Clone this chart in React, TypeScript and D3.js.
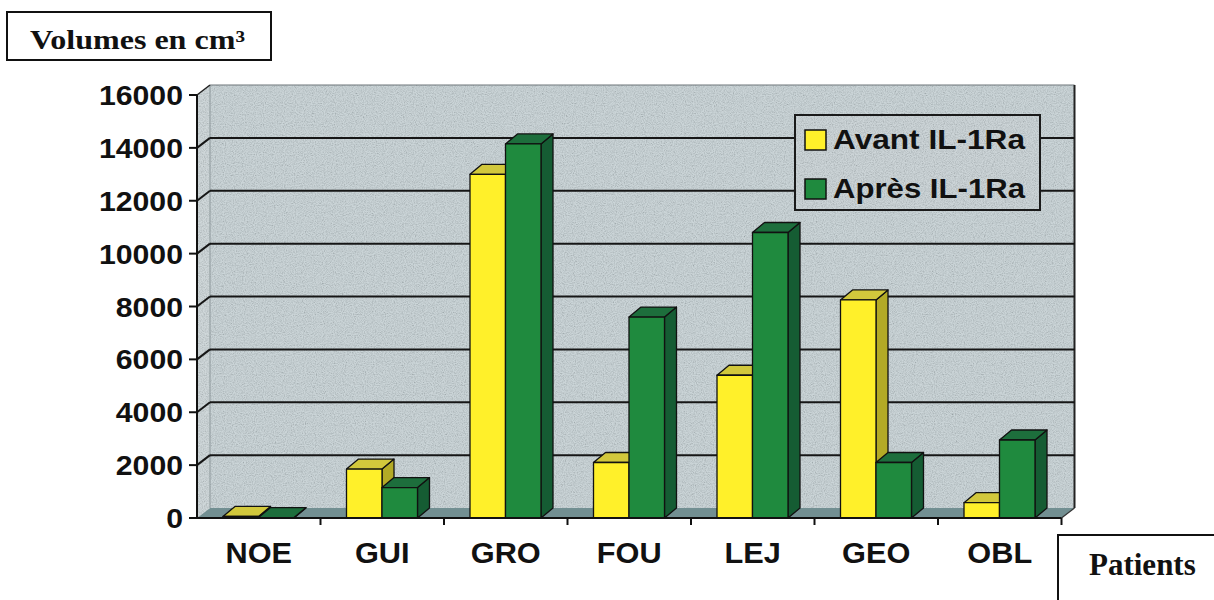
import React from "react";
import * as d3 from "d3";

const categories = ["NOE", "GUI", "GRO", "FOU", "LEJ", "GEO", "OBL"];
const seriesNames = ["Avant IL-1Ra", "Après IL-1Ra"];
const avantValues = [60, 1850, 13000, 2100, 5400, 8250, 580];
const apresValues = [15, 1150, 14150, 7600, 10800, 2100, 2950];
const yTicks = [0, 2000, 4000, 6000, 8000, 10000, 12000, 14000, 16000];
const yAxisTitle = "Volumes en cm³";
const xAxisTitle = "Patients";

const seriesColors = [
  { front: "#fff02a", top: "#d2c83c", side: "#b3aa26" },
  { front: "#1f8a3e", top: "#1d6e3c", side: "#155c33" },
];

const WALL_DX = 13;
const WALL_DY = 10;
const BAR_DX = 12;
const BAR_DY = 10;

export default function App() {
  const W = 1214;
  const H = 600;
  const x0 = d3.scaleBand<string>().domain(categories).range([197, 1061.5]);
  const x1 = d3.scaleBand<string>().domain(seriesNames).range([26, 97]);
  const y = d3.scaleLinear().domain([0, 16000]).range([518, 95]);

  const xL = x0.range()[0];
  const xR = x0.range()[1];
  const y0 = y(0);
  const yTop = y(16000);

  const sansFont = "'Liberation Sans', Arial, Helvetica, sans-serif";
  const serifFont = "'Liberation Serif', 'Times New Roman', serif";

  const series = [avantValues, apresValues];

  const bars: React.ReactNode[] = [];
  categories.forEach((c, ci) => {
    series.forEach((vals, si) => {
      const v = vals[ci];
      const bx = (x0(c) as number) + (x1(seriesNames[si]) as number);
      const bw = x1.bandwidth();
      const yt = y(v);
      const col = seriesColors[si];
      const topPts = [
        [bx, yt],
        [bx + BAR_DX, yt - BAR_DY],
        [bx + bw + BAR_DX, yt - BAR_DY],
        [bx + bw, yt],
      ];
      const sidePts = [
        [bx + bw, yt],
        [bx + bw + BAR_DX, yt - BAR_DY],
        [bx + bw + BAR_DX, y0 - BAR_DY],
        [bx + bw, y0],
      ];
      bars.push(
        <g key={`${c}-${si}`} stroke="#111" strokeWidth={1.3} strokeLinejoin="round">
          <polygon points={sidePts.map((p) => p.join(",")).join(" ")} fill={col.side} />
          <polygon points={topPts.map((p) => p.join(",")).join(" ")} fill={col.top} />
          <rect x={bx} y={yt} width={bw} height={Math.max(0, y0 - yt)} fill={col.front} />
        </g>
      );
    });
  });

  const wallPts = [
    [xL + WALL_DX, yTop - WALL_DY],
    [xR + WALL_DX, yTop - WALL_DY],
    [xR + WALL_DX, y0 - WALL_DY],
    [xL + WALL_DX, y0 - WALL_DY],
  ];
  const leftWallPts = [
    [xL, yTop],
    [xL + WALL_DX, yTop - WALL_DY],
    [xL + WALL_DX, y0 - WALL_DY],
    [xL, y0],
  ];
  const floorPts = [
    [xL, y0],
    [xL + WALL_DX, y0 - WALL_DY],
    [xR + WALL_DX, y0 - WALL_DY],
    [xR, y0],
  ];
  const pts = (a: number[][]) => a.map((p) => p.join(",")).join(" ");

  const legendX = 795;
  const legendY = 115;

  return (
    <svg
      width={W}
      height={H}
      viewBox={`0 0 ${W} ${H}`}
      style={{ position: "absolute", left: 0, top: 0, background: "#fff" }}
    >
      <defs>
        <filter id="grain" x="0" y="0" width="100%" height="100%">
          <feTurbulence type="fractalNoise" baseFrequency="0.9" numOctaves="2" seed="5" result="noise" />
          <feColorMatrix
            in="noise"
            type="matrix"
            values="1.6 0 0 0 -0.1  1.6 0 0 0 -0.1  1.6 0 0 0 -0.1  0 0 0 0 0.25"
            result="g"
          />
          <feComposite in="g" in2="SourceGraphic" operator="in" />
        </filter>
      </defs>

      {/* walls */}
      <polygon points={pts(wallPts)} fill="#bac7cb" />
      <polygon points={pts(leftWallPts)} fill="#c0cbce" />
      <polygon points={pts(floorPts)} fill="#728f92" />
      <polygon points={pts(wallPts)} fill="#000" filter="url(#grain)" />
      <polygon points={pts(leftWallPts)} fill="#000" filter="url(#grain)" />

      {/* back corner */}
      <line x1={xL + WALL_DX} x2={xL + WALL_DX} y1={yTop - WALL_DY} y2={y0 - WALL_DY} stroke="#8d989b" strokeWidth={1} />
      {/* wall outline */}
      <line x1={xL + WALL_DX} x2={xR + WALL_DX} y1={yTop - WALL_DY} y2={yTop - WALL_DY} stroke="#6e777a" strokeWidth={1.2} />
      <line x1={xL} x2={xL + WALL_DX} y1={yTop} y2={yTop - WALL_DY} stroke="#222" strokeWidth={1.5} />
      <line x1={xR + WALL_DX} x2={xR + WALL_DX} y1={yTop - WALL_DY} y2={y0 - WALL_DY} stroke="#222" strokeWidth={2} />
      <line x1={xR} x2={xR + WALL_DX} y1={y0} y2={y0 - WALL_DY} stroke="#333" strokeWidth={1.2} />

      {/* gridlines */}
      {yTicks.filter((t) => t > 0 && t < 16000).map((t) => (
        <g key={`g${t}`} stroke="#161616" strokeWidth={2}>
          <line x1={xL} y1={y(t)} x2={xL + WALL_DX} y2={y(t) - WALL_DY} />
          <line x1={xL + WALL_DX} y1={y(t) - WALL_DY} x2={xR + WALL_DX} y2={y(t) - WALL_DY} />
        </g>
      ))}

      {/* legend */}
      <g>
        <rect x={legendX} y={legendY} width={245} height={95} fill="#bcc7cb" stroke="#1a1a1a" strokeWidth={2} />
        <rect x={legendX + 1} y={legendY + 1} width={243} height={93} fill="#000" filter="url(#grain)" />
        {seriesNames.map((s, i) => (
          <g key={s} transform={`translate(${legendX + 10},${legendY + 15 + i * 49})`}>
            <rect x={0} y={0} width={21} height={20} fill={seriesColors[i].front} stroke="#111" strokeWidth={1.5} />
            <text
              x={28}
              y={19}
              fontFamily={sansFont}
              fontWeight="bold"
              fontSize={27}
              fill="#111"
              textLength={192}
              lengthAdjust="spacingAndGlyphs"
            >
              {s}
            </text>
          </g>
        ))}
      </g>

      {/* bars */}
      {bars}

      {/* y axis */}
      <line x1={xL} x2={xL} y1={yTop} y2={y0} stroke="#111" strokeWidth={2} />
      {yTicks.map((t) => (
        <g key={`t${t}`}>
          <line x1={xL - 8} x2={xL} y1={y(t)} y2={y(t)} stroke="#111" strokeWidth={2} />
          <text
            transform={`translate(${xL - 14},${y(t) + 10}) scale(1.08,1)`}
            textAnchor="end"
            fontFamily={sansFont}
            fontWeight="bold"
            fontSize={28}
            fill="#111"
          >
            {t}
          </text>
        </g>
      ))}

      {/* x axis */}
      <line x1={xL} x2={xR} y1={y0} y2={y0} stroke="#111" strokeWidth={2} />
      {categories.map((c) => (
        <line key={`xt${c}`} x1={(x0(c) as number) + x0.bandwidth()} x2={(x0(c) as number) + x0.bandwidth()} y1={y0} y2={y0 + 7} stroke="#111" strokeWidth={2} />
      ))}
      {categories.map((c) => (
        <text
          key={`xl${c}`}
          transform={`translate(${(x0(c) as number) + x0.bandwidth() / 2},${563}) scale(1.06,1)`}
          textAnchor="middle"
          fontFamily={sansFont}
          fontWeight="bold"
          fontSize={29}
          fill="#111"
        >
          {c}
        </text>
      ))}

      {/* axis title boxes */}
      <rect x={7} y={12} width={264} height={48} fill="#fff" stroke="#111" strokeWidth={2} />
      <text
        x={30}
        y={49}
        fontFamily={serifFont}
        fontWeight="bold"
        fontSize={27}
        fill="#111"
        textLength={215}
        lengthAdjust="spacingAndGlyphs"
      >
        {yAxisTitle}
      </text>

      <rect x={1058} y={535} width={170} height={80} fill="#fff" stroke="#111" strokeWidth={2} />
      <text x={1089} y={575} fontFamily={serifFont} fontWeight="bold" fontSize={31} fill="#111">
        {xAxisTitle}
      </text>
    </svg>
  );
}
